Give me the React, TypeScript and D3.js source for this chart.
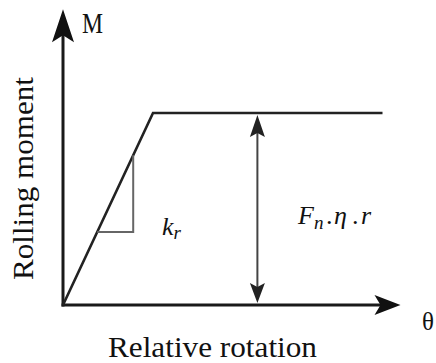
import React from "react";
import * as d3 from "d3";

// Bilinear rolling-resistance law: moment rises with stiffness k_r, then caps at Fn·η·r
const rotation = [0, 1, 3.55];
const moment = [0, 1, 1];

// Axis extents (where the arrow tips sit)
const axisEnd = { rotation: 3.75, moment: 1.54 };

// Slope triangle used to mark the stiffness k_r
const triangle = { from: 0.38, to: 0.78 };

// Position of the double-headed arrow showing the moment cap
const capArrowAt = 2.16;

const W = 436;
const H = 363;

const x = d3.scaleLinear().domain([0, 1]).range([63, 153]);
const y = d3.scaleLinear().domain([0, 1]).range([305, 113]);

const serif = "'Liberation Serif', 'DejaVu Serif', serif";

// Stealth-style arrowhead pointing in direction (dx, dy) with tip at (tx, ty)
function arrowHead(tx: number, ty: number, dx: number, dy: number, len: number, half: number, notch: number) {
  const px = -dy;
  const py = dx;
  const bx = tx - dx * len;
  const by = ty - dy * len;
  const nx = tx - dx * (len - notch);
  const ny = ty - dy * (len - notch);
  return `M${tx},${ty}L${bx + px * half},${by + py * half}L${nx},${ny}L${bx - px * half},${by - py * half}Z`;
}

export default function App() {
  const line = d3
    .line<number>()
    .x((_, i) => x(rotation[i]))
    .y((d) => y(d));

  const x0 = x(0);
  const y0 = y(0);
  const xTip = x(axisEnd.rotation);
  const yTip = y(axisEnd.moment);

  const triPath = d3.line()([
    [x(triangle.from), y(triangle.from)],
    [x(triangle.to), y(triangle.from)],
    [x(triangle.to), y(triangle.to)],
  ]);

  const ax = x(capArrowAt);
  const capTop = y(moment[1]);

  return (
    <svg width={W} height={H} style={{ position: "absolute", left: 0, top: 0, background: "#fff" }}>
      {/* axes */}
      <line x1={x0} y1={y0 + 1.5} x2={x0} y2={yTip + 20} stroke="#1a1a1a" strokeWidth={3} />
      <line x1={x0 - 1.5} y1={y0} x2={xTip - 18} y2={y0} stroke="#1a1a1a" strokeWidth={3} />
      <path d={arrowHead(x0, yTip, 0, -1, 33, 11, 7)} fill="#111" />
      <path d={arrowHead(xTip, y0, 1, 0, 26, 10, 6)} fill="#111" />

      {/* moment–rotation curve */}
      <path d={line(moment) ?? ""} fill="none" stroke="#222" strokeWidth={2.6} strokeLinejoin="miter" />

      {/* stiffness triangle */}
      <path d={triPath ?? ""} fill="none" stroke="#666" strokeWidth={2} />

      {/* moment cap arrow */}
      <line x1={ax} y1={capTop + 16} x2={ax} y2={y0 - 16} stroke="#444" strokeWidth={2} />
      <path d={arrowHead(ax, capTop + 2, 0, -1, 22, 7.5, 4)} fill="#222" />
      <path d={arrowHead(ax, y0 - 2, 0, 1, 20, 7.5, 4)} fill="#222" />

      {/* axis symbols */}
      <text x={82} y={33} fontFamily={serif} fontSize={29} textLength={21} lengthAdjust="spacingAndGlyphs" fill="#111">M</text>
      <text x={422} y={330} fontFamily={serif} fontSize={25} fill="#111">θ</text>

      {/* axis titles */}
      <text
        transform={`translate(33,178.5) rotate(-90)`}
        textAnchor="middle"
        fontFamily={serif}
        fontSize={29}
        textLength={203}
        lengthAdjust="spacingAndGlyphs"
        fill="#111"
      >
        Rolling moment
      </text>
      <text
        x={212.5}
        y={357}
        textAnchor="middle"
        fontFamily={serif}
        fontSize={29}
        textLength={209}
        lengthAdjust="spacingAndGlyphs"
        fill="#111"
      >
        Relative rotation
      </text>

      {/* annotations */}
      <text x={162} y={235} fontFamily={serif} fontSize={26} fontStyle="italic" fill="#111">
        k<tspan fontSize={19} dy={4}>r</tspan>
      </text>
      <text y={224} fontFamily={serif} fontSize={26} fontStyle="italic" fill="#111">
        <tspan x={298}>F</tspan>
        <tspan x={314} dy={5} fontSize={19}>n</tspan>
        <tspan x={326} dy={-5} fontStyle="normal">.</tspan>
        <tspan x={334}>η</tspan>
        <tspan x={352} fontStyle="normal">.</tspan>
        <tspan x={361}>r</tspan>
      </text>
    </svg>
  );
}
